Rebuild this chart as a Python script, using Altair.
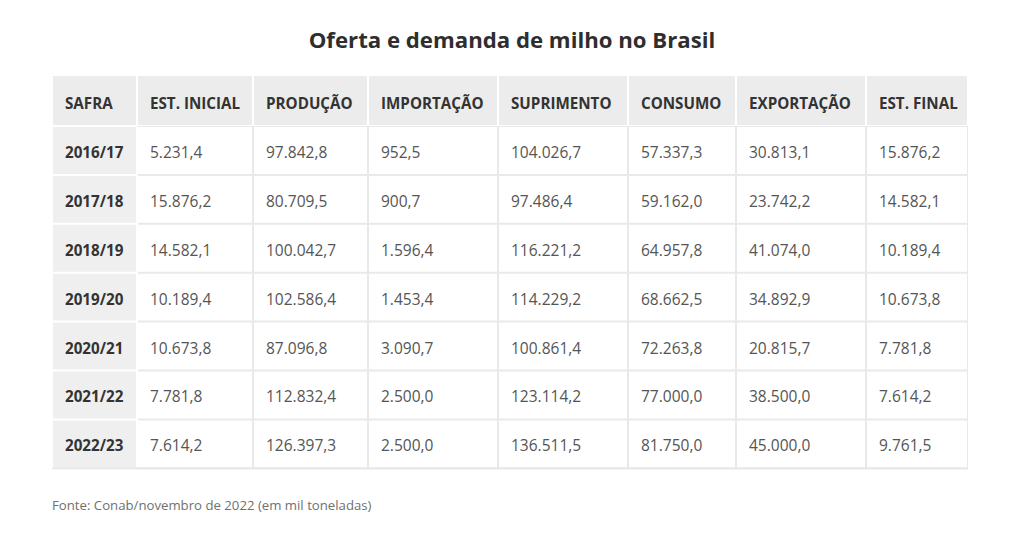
import altair as alt
import pandas as pd

# ---------------- data ----------------
title_text = "Oferta e demanda de milho no Brasil"
source_text = "Fonte: Conab/novembro de 2022 (em mil toneladas)"
headers = ["SAFRA", "EST. INICIAL", "PRODUÇÃO", "IMPORTAÇÃO", "SUPRIMENTO",
           "CONSUMO", "EXPORTAÇÃO", "EST. FINAL"]
safras = ["2016/17", "2017/18", "2018/19", "2019/20", "2020/21", "2021/22", "2022/23"]
est_inicial = [5231.4, 15876.2, 14582.1, 10189.4, 10673.8, 7781.8, 7614.2]
producao = [97842.8, 80709.5, 100042.7, 102586.4, 87096.8, 112832.4, 126397.3]
importacao = [952.5, 900.7, 1596.4, 1453.4, 3090.7, 2500.0, 2500.0]
suprimento = [104026.7, 97486.4, 116221.2, 114229.2, 100861.4, 123114.2, 136511.5]
consumo = [57337.3, 59162.0, 64957.8, 68662.5, 72263.8, 77000.0, 81750.0]
exportacao = [30813.1, 23742.2, 41074.0, 34892.9, 20815.7, 38500.0, 45000.0]
est_final = [15876.2, 14582.1, 10189.4, 10673.8, 7781.8, 7614.2, 9761.5]

# ---------------- layout (style) ----------------
W, H = 1008, 539
col_edges = [52, 137, 253, 368, 498, 628, 736, 866, 968]
header_top, header_bottom = 76, 126
row_h = 48.9
pad_x = 13
text_dy = 2.5
FONT = "Open Sans"


def br(v):
    s = f"{v:,.1f}"
    return s.replace(",", "X").replace(".", ",").replace("X", ".")


series = [est_inicial, producao, importacao, suprimento, consumo, exportacao, est_final]

cells = []
texts = []
# header
for c, h in enumerate(headers):
    x0, x1 = col_edges[c], col_edges[c + 1]
    cells.append(dict(x=x0 + 1, x2=x1 - 1, y=header_top, y2=header_bottom - 1, fill="#ececec"))
    texts.append(dict(x=x0 + pad_x, y=(header_top + header_bottom) / 2 + text_dy, text=h,
                      color="#333333", bold=True, size=15.2))
# body
for r, s in enumerate(safras):
    top = header_bottom + r * row_h
    bot = top + row_h
    row_vals = [s] + [br(col[r]) for col in series]
    for c, v in enumerate(row_vals):
        x0, x1 = col_edges[c], col_edges[c + 1]
        cells.append(dict(x=x0 + 1, x2=x1 - 1, y=top + 1, y2=bot - 1,
                          fill="#efefef" if c == 0 else "#ffffff"))
        texts.append(dict(x=x0 + pad_x, y=(top + bot) / 2 + text_dy, text=v,
                          color="#333333" if c == 0 else "#555555", bold=(c == 0),
                          size=15.2 if c == 0 else 15.5))

cells_df = pd.DataFrame(cells)
texts_df = pd.DataFrame(texts)
body_bottom = header_bottom + len(safras) * row_h
bg_df = pd.DataFrame([
    dict(x=col_edges[1] + 1, x2=col_edges[-1], y=header_bottom, y2=body_bottom + 1, fill="#e9e9e9"),
    dict(x=col_edges[0], x2=col_edges[-1], y=body_bottom - 1, y2=body_bottom + 1, fill="#e6e6e6"),
])

xs = alt.Scale(domain=[8, 8 + W])
ys = alt.Scale(domain=[8, 8 + H], reverse=True)


def rects(df):
    return alt.Chart(df).mark_rect().encode(
        x=alt.X("x:Q", scale=xs, axis=None), x2="x2:Q",
        y=alt.Y("y:Q", scale=ys, axis=None), y2="y2:Q",
        fill=alt.Fill("fill:N", scale=None),
    )


cell_layer = rects(cells_df)
bg = rects(bg_df)

bold_txt = alt.Chart(texts_df[texts_df.bold]).mark_text(
    align="left", baseline="middle", font=FONT, fontWeight="bold"
).encode(
    x=alt.X("x:Q", scale=xs, axis=None), y=alt.Y("y:Q", scale=ys, axis=None),
    text="text:N", color=alt.Color("color:N", scale=None),
    size=alt.Size("size:Q", scale=None),
)
reg_txt = alt.Chart(texts_df[~texts_df.bold]).mark_text(
    align="left", baseline="middle", font=FONT
).encode(
    x=alt.X("x:Q", scale=xs, axis=None), y=alt.Y("y:Q", scale=ys, axis=None),
    text="text:N", color=alt.Color("color:N", scale=None),
    size=alt.Size("size:Q", scale=None),
)

title_df = pd.DataFrame([dict(x=(col_edges[0] + col_edges[-1]) / 2 + 2, y=41, text=title_text)])
title = alt.Chart(title_df).mark_text(
    align="center", baseline="middle", font=FONT, fontSize=22.2, fontWeight="bold", color="#2e2e2e"
).encode(x=alt.X("x:Q", scale=xs, axis=None), y=alt.Y("y:Q", scale=ys, axis=None), text="text:N")

src_df = pd.DataFrame([dict(x=col_edges[0], y=506, text=source_text)])
src = alt.Chart(src_df).mark_text(
    align="left", baseline="middle", font=FONT, fontSize=13.2, color="#707070"
).encode(x=alt.X("x:Q", scale=xs, axis=None), y=alt.Y("y:Q", scale=ys, axis=None), text="text:N")

chart = alt.layer(bg, cell_layer, reg_txt, bold_txt, title, src).properties(
    width=W, height=H, padding=0, autosize=alt.AutoSizeParams(type="none"),
    background="white",
).configure_view(stroke=None)

chart.save("out.html", embed_options={"renderer": "svg", "actions": False})
